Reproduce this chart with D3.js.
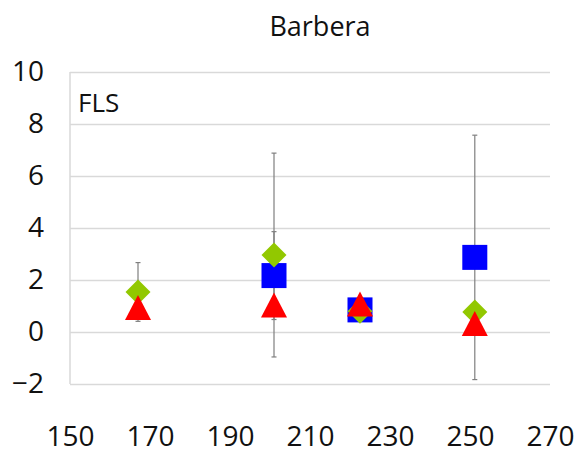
<!DOCTYPE html>
<html>
<head>
<meta charset="utf-8">
<script src="https://cdn.jsdelivr.net/npm/d3@7"></script>
<style>
  body { margin: 0; background: #fff; }
  text { font-family: "Open Sans", sans-serif; fill: #111; }
</style>
</head>
<body>
<div class="canva"></div>
<script>
// values
const xVals = [167, 201, 222.5, 251.2];
const blueVals = [null, 2.17, 0.85, 2.87];
const blueErr = [null, 1.69, 0.4, 4.7];
const greenVals = [1.54, 2.96, 0.8, 0.77];
const greenErr = [1.13, 3.92, null, null];
const redVals = [0.94, 1.04, 1.08, 0.33];
const xTicks = [150, 170, 190, 210, 230, 250, 270];
const yTicks = [-2, 0, 2, 4, 6, 8, 10];

const svg = d3.select(".canva").append("svg")
            .attr("width", 582)
            .attr("height", 461);

const x = d3.scaleLinear().domain([150, 270]).range([70, 550]);
const y = d3.scaleLinear().domain([-2, 10]).range([384, 72]);

//gridlines
svg.append("g")
   .attr("transform", "translate(70,0)")
   .call(d3.axisLeft(y).tickValues(yTicks).tickSize(-480).tickFormat(""))
   .call(g => g.select(".domain").remove())
   .selectAll("line")
   .attr("stroke", "#d9d9d9")
   .attr("stroke-width", 1.5);

//left axis line
svg.append("line")
   .attr("x1", 70).attr("x2", 70)
   .attr("y1", y(10)).attr("y2", y(-2))
   .attr("stroke", "#d9d9d9")
   .attr("stroke-width", 1.5);

//y labels
const yAxis = svg.append("g")
   .attr("transform", "translate(44,0)")
   .call(d3.axisLeft(y).tickValues(yTicks).tickSize(0).tickPadding(0)
          .tickFormat(d => d < 0 ? "\u2212" + Math.abs(d) : d));
yAxis.select(".domain").remove();
yAxis.selectAll("text")
   .attr("font-size", 28)
   .attr("font-family", "Open Sans")
   .attr("fill", "#111");

//x labels
const xAxis = svg.append("g")
   .attr("transform", "translate(0,426)")
   .call(d3.axisBottom(x).tickValues(xTicks).tickSize(0).tickPadding(0));
xAxis.select(".domain").remove();
xAxis.selectAll("text")
   .attr("font-size", 28)
   .attr("font-family", "Open Sans")
   .attr("fill", "#111");

//title
svg.append("text")
   .attr("x", 320).attr("y", 36)
   .attr("text-anchor", "middle")
   .attr("font-size", 27)
   .text("Barbera");

svg.append("text")
   .attr("x", 78).attr("y", 112)
   .attr("font-size", 26)
   .text("FLS");

//error bars
function errorBars(vals, errs) {
  const rows = xVals.map((xv, i) => ({x: xv, v: vals[i], e: errs[i]}))
                    .filter(d => d.v != null && d.e != null);
  const g = svg.append("g").attr("stroke", "#7f7f7f").attr("stroke-width", 1.2);
  rows.forEach(d => {
    g.append("line")
     .attr("x1", x(d.x)).attr("x2", x(d.x))
     .attr("y1", y(d.v + d.e)).attr("y2", y(d.v - d.e));
    [d.v + d.e, d.v - d.e].forEach(t => {
      g.append("line")
       .attr("x1", x(d.x) - 2.5).attr("x2", x(d.x) + 2.5)
       .attr("y1", y(t)).attr("y2", y(t));
    });
  });
}
errorBars(blueVals, blueErr);
errorBars(greenVals, greenErr);

function pts(vals) {
  return xVals.map((xv, i) => ({x: xv, v: vals[i]})).filter(d => d.v != null);
}

//blue squares
svg.append("g").selectAll("rect")
   .data(pts(blueVals))
   .enter()
   .append("rect")
   .attr("x", d => x(d.x) - 12.5)
   .attr("y", d => y(d.v) - 12.5)
   .attr("width", 25)
   .attr("height", 25)
   .attr("fill", "#0000ff");

//green diamonds
svg.append("g").selectAll("path")
   .data(pts(greenVals))
   .enter()
   .append("path")
   .attr("d", d => {
     const cx = x(d.x), cy = y(d.v), r = 12.5;
     return `M${cx},${cy - r}L${cx + r},${cy}L${cx},${cy + r}L${cx - r},${cy}Z`;
   })
   .attr("fill", "#92c800");

//red triangles
svg.append("g").selectAll("path")
   .data(pts(redVals))
   .enter()
   .append("path")
   .attr("d", d => {
     const cx = x(d.x), cy = y(d.v), w = 13, h = 12.5;
     return `M${cx},${cy - h}L${cx + w},${cy + h}L${cx - w},${cy + h}Z`;
   })
   .attr("fill", "#ff0000");
</script>
</body>
</html>
